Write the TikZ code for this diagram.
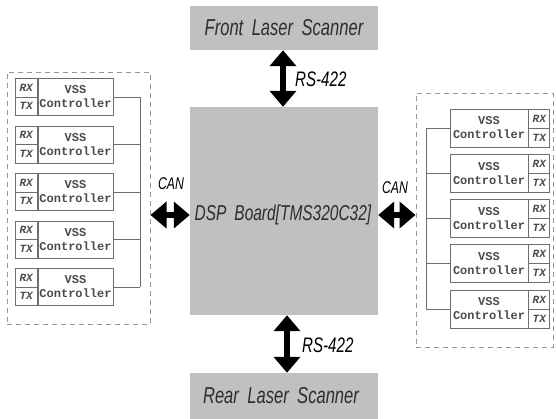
\documentclass[tikz,border=0pt]{standalone}
\usepackage{fontspec}
\usetikzlibrary{arrows.meta}
\newfontfamily\lblfont[FakeStretch=0.72]{Liberation Sans}
\newfontfamily\monofnt{Liberation Mono}
\definecolor{boxgray}{RGB}{192,192,192}
\definecolor{linegray}{RGB}{110,110,110}
\definecolor{dashgray}{RGB}{150,150,150}
\definecolor{txtgray}{RGB}{45,45,45}
\definecolor{ctrltxt}{RGB}{75,75,75}
\tikzset{
  graybox/.style={draw=none, fill=boxgray, inner sep=0pt},
  lbl/.style={font=\lblfont\itshape\fontsize{23}{26}\selectfont, text=txtgray, inner sep=0pt},
  smalllbl/.style={font=\lblfont\itshape\fontsize{21}{24}\selectfont, text=black, inner sep=0pt},
  canlbl/.style={font=\lblfont\itshape\fontsize{17}{20}\selectfont, text=black, inner sep=0pt},
  ctrl/.style={draw=linegray, line width=0.8pt, fill=white, inner sep=0pt, align=center,
     font=\monofnt\bfseries\fontsize{12}{14}\selectfont, text=ctrltxt},
  cell/.style={draw=linegray, line width=0.8pt, fill=white, inner sep=0pt,
     font=\monofnt\bfseries\itshape\fontsize{11}{12}\selectfont, text=ctrltxt},
  wire/.style={draw=linegray, line width=0.8pt},
  dashbox/.style={draw=dashgray, line width=1pt, dash pattern=on 5pt off 4pt},
  bigarrow/.style={line width=6pt, {Triangle[width=26pt,length=16pt]}-{Triangle[width=26pt,length=16pt]}}
}
\begin{document}
\begin{tikzpicture}[x=1pt,y=-1pt]
\useasboundingbox (0,0) rectangle (556,418);
% gray boxes
\node[graybox, minimum width=188pt, minimum height=44pt] (front) at (284,28) {};
\node[lbl] at (front.center) {Front\, Laser\, Scanner};
\node[graybox, minimum width=188pt, minimum height=208pt] (dsp) at (284,211) {};
\node[lbl, font=\lblfont\itshape\fontsize{21.5}{24}\selectfont] at (283,215) {DSP\, Board[TMS320C32]};
\node[graybox, minimum width=188pt, minimum height=46pt] (rear) at (284,396) {};
\node[lbl] at (281,396) {Rear\, Laser\, Scanner};
% RS-422 arrows
\draw[bigarrow] (front.south -| 283,0) -- (dsp.north -| 283,0);
\node[smalllbl, anchor=west] (rs1) at (295,79) {RS-422};
\draw[bigarrow] (dsp.south -| 287,0) -- (rear.north -| 287,0);
\node[smalllbl, anchor=west] (rs2) at (302,345) {RS-422};
% dashed groups
\node[dashbox, minimum width=143pt, minimum height=252pt, inner sep=0pt] (lgroup) at (78.5,198) {};
\node[dashbox, minimum width=137pt, minimum height=254pt, inner sep=0pt] (rgroup) at (484.5,220) {};
% CAN arrows
\draw[bigarrow] (lgroup.east |- 0,215) -- (dsp.west |- 0,215);
\node[canlbl] (canl) at (171,184) {CAN};
\draw[bigarrow] (dsp.east |- 0,215) -- (rgroup.west |- 0,215);
\node[canlbl] (canr) at (395,188) {CAN};
% left controllers
\foreach \i/\y in {1/97,2/144.5,3/192,4/239.5,5/287} {
  \node[ctrl, minimum width=75pt, minimum height=37pt] (lc\i) at (75.5,\y) {VSS\\Controller};
  \node[cell, minimum width=22pt, minimum height=18.5pt, anchor=north east] (lrx\i) at (lc\i.north west) {RX};
  \node[cell, minimum width=22pt, minimum height=18.5pt, anchor=south east] (ltx\i) at (lc\i.south west) {TX};
  \coordinate (lb\i) at (140,\y);
  \draw[wire] (lc\i.east) -- (lb\i);
}
\draw[wire] (lb1) -- (lb5);
% right controllers
\foreach \i/\y in {1/128,2/173.5,3/218.5,4/263.5,5/309} {
  \node[ctrl, minimum width=78pt, minimum height=38pt] (rc\i) at (489,\y) {VSS\\Controller};
  \node[cell, minimum width=21pt, minimum height=19pt, anchor=north west] (rrx\i) at (rc\i.north east) {RX};
  \node[cell, minimum width=21pt, minimum height=19pt, anchor=south west] (rtx\i) at (rc\i.south east) {TX};
  \coordinate (rb\i) at (426,\y);
  \draw[wire] (rc\i.west) -- (rb\i);
}
\draw[wire] (rb1) -- (rb5);
\end{tikzpicture}
\end{document}
